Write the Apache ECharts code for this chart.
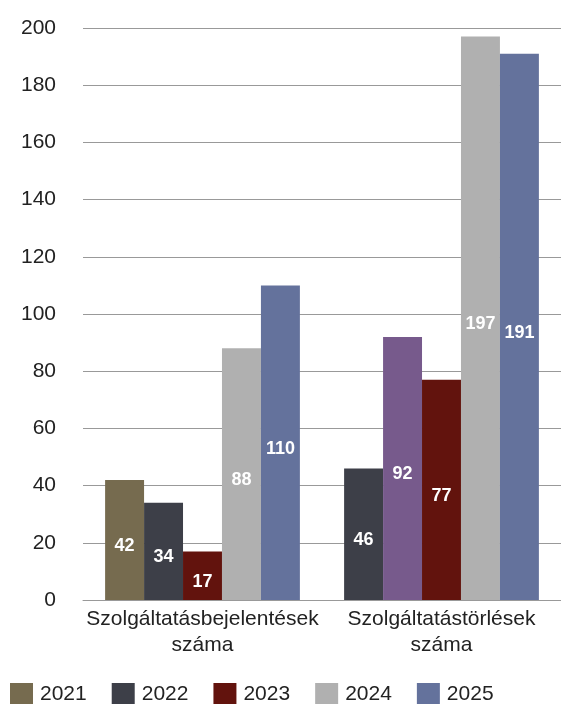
<!DOCTYPE html>
<html>
<head>
<meta charset="utf-8">
<script src="https://cdn.jsdelivr.net/npm/echarts@6/dist/echarts.min.js"></script>
<style>
  html, body { margin: 0; padding: 0; background: #fff; }
  #chart { width: 561px; height: 704px; }
</style>
</head>
<body>
<div id="chart"></div>
<script>
// data
const categories = ['Szolgáltatásbejelentések\nszáma', 'Szolgáltatástörlések\nszáma'];
const years = ['2021', '2022', '2023', '2024', '2025'];
const v2021 = [42, 46];
const v2022 = [34, 92];
const v2023 = [17, 77];
const v2024 = [88, 197];
const v2025 = [110, 191];
const yTicks = [0, 20, 40, 60, 80, 100, 120, 140, 160, 180, 200];

// colours (the second group uses different fills for its first two bars)
const colors = ['#766b4f', '#3d3f48', '#62130d', '#b0b0b0', '#64729c'];
const overrideColors = { '0-1': '#3d3f48', '1-1': '#775a8c' };

const values = [v2021, v2022, v2023, v2024, v2025];
const font = 'Liberation Sans, Arial, sans-serif';

const chart = echarts.init(document.getElementById('chart'), null, { renderer: 'canvas' });

const series = years.map(function (y, si) {
  return {
    name: y,
    type: 'bar',
    barGap: '0%',
    barCategoryGap: '18.5%',
    data: values[si].map(function (v, ci) {
      const key = si + '-' + ci;
      const item = { value: v };
      if (overrideColors[key]) item.itemStyle = { color: overrideColors[key] };
      return item;
    }),
    itemStyle: { color: colors[si] },
    label: {
      show: true,
      position: 'inside',
      offset: [0, 6],
      color: '#ffffff',
      fontWeight: 'bold',
      fontSize: 18,
      fontFamily: font
    }
  };
});

const option = {
  backgroundColor: '#ffffff',
  animation: false,
  textStyle: { fontFamily: font },
  grid: { left: 83, right: -3, top: 28, bottom: 104 },
  legend: {
    data: years,
    left: 5,
    bottom: -7,
    itemWidth: 23,
    itemHeight: 23,
    itemGap: 25,
    icon: 'rect',
    textStyle: { fontSize: 21, color: '#222', padding: [0, 0, 0, 2] }
  },
  xAxis: {
    type: 'category',
    data: categories,
    axisLine: { show: true, lineStyle: { color: '#999', width: 1 } },
    axisTick: { show: false },
    axisLabel: { interval: 0, fontSize: 21, color: '#222', lineHeight: 26, margin: 6 }
  },
  yAxis: {
    type: 'value',
    min: yTicks[0],
    max: yTicks[yTicks.length - 1],
    interval: 20,
    axisLine: { show: false },
    axisTick: { show: false },
    axisLabel: { fontSize: 21, color: '#222', margin: 27 },
    splitLine: { lineStyle: { color: '#999', width: 1 } }
  },
  series: series
};

chart.setOption(option);
</script>
</body>
</html>
